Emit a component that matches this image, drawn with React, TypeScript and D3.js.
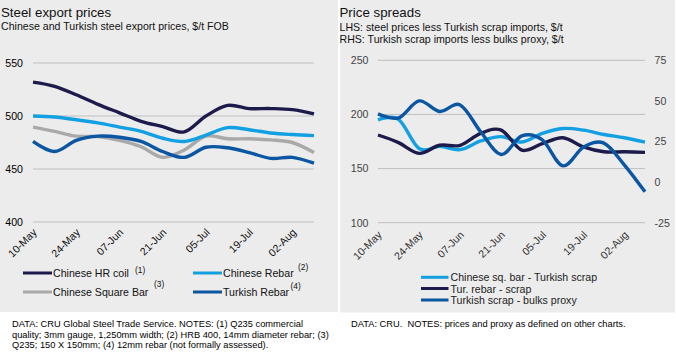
import React from "react";
import * as d3 from "d3";

// weekly observations, labels shown every other week
const weeks = [
  "10-May", "17-May", "24-May", "31-May", "07-Jun", "14-Jun", "21-Jun",
  "28-Jun", "05-Jul", "12-Jul", "19-Jul", "26-Jul", "02-Aug", "09-Aug",
];
const tickWeeks = ["10-May", "24-May", "07-Jun", "21-Jun", "05-Jul", "19-Jul", "02-Aug"];

// left chart: export prices, $/t FOB
const priceTicks = [400, 450, 500, 550];
const hrCoil = [532, 528, 520, 511, 503, 495, 490, 485, 500, 510, 507, 507, 506, 502];
const chineseRebar = [500, 499, 496.5, 493.5, 489.5, 485.5, 479, 476, 482, 489, 487, 484, 482.5, 481.5];
const squareBar = [489.5, 485.5, 481, 480.5, 477, 471, 461, 468, 481, 478.5, 478.5, 477.5, 475, 465.5];
const turkishRebar = [476, 466.5, 477, 481, 480, 476, 466.5, 461, 470.5, 470, 465.5, 460, 461, 455.5];

// right chart: spreads
const lhsTicks = [100, 150, 200, 250];
const rhsTicks = [-25, 0, 25, 50, 75];
const sqBarSpread = [195, 195.5, 168.5, 170.5, 167.5, 175.5, 179.5, 174.5, 182.5, 187, 185.5, 181.5, 178.5, 174.5];
const rebarSpread = [181, 174, 164, 171.5, 171.5, 182.5, 185.5, 167, 173, 178.5, 170, 165.5, 165.5, 165];
const scrapBulks = [42, 39.5, 50, 43.5, 47.5, 31, 17, 28.5, 26, 10, 21.5, 24, 10.5, -6];

const NAVY = "#1d1a4c";
const SKY = "#13a0e2";
const GREY = "#a9a9a9";
const BLUE = "#0b56a2";
const BG = "#ececec";
const GRID = "#bfbfbf";
const FONT = "'Liberation Sans', Arial, sans-serif";

const curve = d3.curveCardinal.tension(0);

function XLabels({ x, y, color }: { x: d3.ScalePoint<string>; y: number; color: string }) {
  return (
    <g fontSize={10.6} fill={color} textAnchor="end">
      {tickWeeks.map((w) => (
        <text key={w} transform={`translate(${(x(w) ?? 0) + 4.5},${y}) rotate(-45)`}>
          {w}
        </text>
      ))}
    </g>
  );
}

function LeftChart() {
  const x = d3.scalePoint<string>().domain(weeks).range([33, 314]);
  const y = d3.scaleLinear().domain([400, 550]).range([222, 63]);
  const line = d3
    .line<number>()
    .x((_, i) => x(weeks[i]) ?? 0)
    .y((d) => y(d))
    .curve(curve);

  const series = [
    { values: squareBar, color: GREY },
    { values: turkishRebar, color: BLUE },
    { values: chineseRebar, color: SKY },
    { values: hrCoil, color: NAVY },
  ];

  const legend = [
    { label: "Chinese HR coil", note: "(1)", color: NAVY, lx: 23, ly: 273, nx: 135, ny: 272.5 },
    { label: "Chinese Rebar", note: "(2)", color: SKY, lx: 193, ly: 273, nx: 298, ny: 270 },
    { label: "Chinese Square Bar", note: "(3)", color: GREY, lx: 23, ly: 292, nx: 154, ny: 287 },
    { label: "Turkish Rebar", note: "(4)", color: BLUE, lx: 193, ly: 292, nx: 290.5, ny: 289 },
  ];

  return (
    <g>
      <rect x={0} y={0} width={338} height={312} fill={BG} />
      <text x={1} y={16.5} fontSize={13.3} fill="#111">Steel export prices</text>
      <text x={1} y={29.5} fontSize={10.6} fill="#111">
        Chinese and Turkish steel export prices, $/t FOB
      </text>
      {priceTicks.map((t) => (
        <g key={t}>
          <line x1={33} x2={314} y1={y(t)} y2={y(t)} stroke={GRID} strokeWidth={1} />
          <text x={23} y={y(t) + 3.8} fontSize={10.6} textAnchor="end" fill="#000">
            {t}
          </text>
        </g>
      ))}
      <XLabels x={x} y={233} color="#111" />
      {series.map((s, i) => (
        <path key={i} d={line(s.values) ?? ""} fill="none" stroke={s.color} strokeWidth={3.4} strokeLinejoin="round" />
      ))}
      <g fontSize={10.6} fill="#111">
        {legend.map((l) => (
          <g key={l.label}>
            <line x1={l.lx} x2={l.lx + 29} y1={l.ly} y2={l.ly} stroke={l.color} strokeWidth={3} />
            <text x={l.lx + 30} y={l.ly + 4}>{l.label}</text>
            <text x={l.nx} y={l.ny} fontSize={8.4}>{l.note}</text>
          </g>
        ))}
      </g>
      <g fontSize={9.3} fill="#000">
        <text x={12} y={327}>DATA: CRU Global Steel Trade Service. NOTES: (1) Q235 commercial</text>
        <text x={12} y={337.5}>quality; 3mm gauge, 1,250mm width; (2) HRB 400, 14mm diameter rebar; (3)</text>
        <text x={12} y={348}>Q235; 150 X 150mm; (4) 12mm rebar (not formally assessed).</text>
      </g>
    </g>
  );
}

function RightChart() {
  const x = d3.scalePoint<string>().domain(weeks).range([378, 645]);
  const yL = d3.scaleLinear().domain([100, 250]).range([222.7, 60.3]);
  const yR = d3.scaleLinear().domain([-25, 75]).range([222.7, 60.3]);
  const lineL = d3
    .line<number>()
    .x((_, i) => x(weeks[i]) ?? 0)
    .y((d) => yL(d))
    .curve(curve);
  const lineR = d3
    .line<number>()
    .x((_, i) => x(weeks[i]) ?? 0)
    .y((d) => yR(d))
    .curve(curve);

  const legend = [
    { label: "Chinese sq. bar - Turkish scrap", color: SKY, ly: 277.3 },
    { label: "Tur. rebar - scrap", color: NAVY, ly: 288.5 },
    { label: "Turkish scrap - bulks proxy", color: BLUE, ly: 300 },
  ];

  return (
    <g>
      <rect x={340} y={0} width={335} height={312.5} fill={BG} />
      <text x={339.5} y={17} fontSize={13.3} fill="#111">Price spreads</text>
      <text x={339.5} y={30.5} fontSize={10.6} fill="#111">
        LHS: steel prices less Turkish scrap imports, $/t
      </text>
      <text x={339.5} y={43} fontSize={10.6} fill="#111">
        RHS: Turkish scrap imports less bulks proxy, $/t
      </text>
      {lhsTicks.map((t) => (
        <g key={t}>
          <line x1={378} x2={645} y1={yL(t)} y2={yL(t)} stroke={GRID} strokeWidth={1} />
          <text x={368.5} y={yL(t) + 3.8} fontSize={10.6} textAnchor="end" fill="#444">
            {t}
          </text>
        </g>
      ))}
      {rhsTicks.map((t) => (
        <text key={t} x={654.5} y={yR(t) + 3.8} fontSize={10.6} fill="#444">
          {t}
        </text>
      ))}
      <XLabels x={x} y={235.5} color="#333" />
      <path d={lineL(sqBarSpread) ?? ""} fill="none" stroke={SKY} strokeWidth={3.4} strokeLinejoin="round" />
      <path d={lineL(rebarSpread) ?? ""} fill="none" stroke={NAVY} strokeWidth={3.4} strokeLinejoin="round" />
      <path d={lineR(scrapBulks) ?? ""} fill="none" stroke={BLUE} strokeWidth={3.4} strokeLinejoin="round" />
      <g fontSize={10.6} fill="#222">
        {legend.map((l) => (
          <g key={l.label}>
            <line x1={421} x2={448.5} y1={l.ly} y2={l.ly} stroke={l.color} strokeWidth={3} />
            <text x={450.5} y={l.ly + 4}>{l.label}</text>
          </g>
        ))}
      </g>
      <text x={351} y={327} fontSize={9.3} fill="#000">
        DATA: CRU.{"\u00a0\u00a0"}NOTES: prices and proxy as defined on other charts.
      </text>
    </g>
  );
}

export default function App() {
  return (
    <svg
      width={676}
      height={353}
      style={{ position: "absolute", left: 0, top: 0, fontFamily: FONT }}
      fontFamily={FONT}
    >
      <rect x={0} y={0} width={676} height={353} fill="#fff" />
      <LeftChart />
      <RightChart />
    </svg>
  );
}
